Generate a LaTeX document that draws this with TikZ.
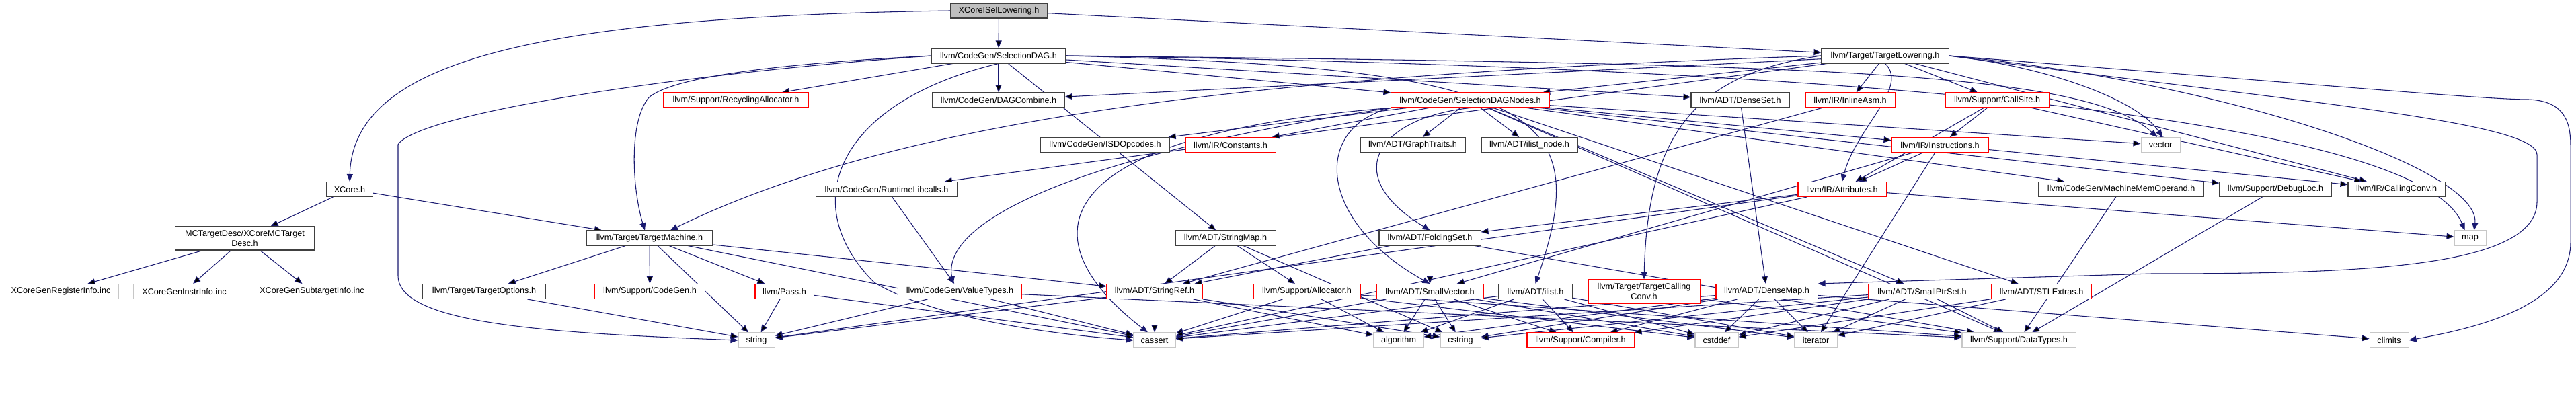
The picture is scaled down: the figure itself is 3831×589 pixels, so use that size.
\documentclass[tikz,border=0pt]{standalone}
\usepackage{fontspec}
\setmainfont{Liberation Sans}
\usetikzlibrary{arrows.meta}
\pgfdeclarelayer{background}
\pgfsetlayers{background,main}
\definecolor{dxblue}{RGB}{25,25,112}

\tikzset{
  hdr/.style={draw=black!75, fill=white, line width=0.3pt, minimum height=0.22cm,
    inner sep=0pt, font=\fontsize{3.6}{4.3}\selectfont, align=center},
  trunc/.style={hdr, draw=red},
  sys/.style={hdr, draw=black!22},
  dep/.style={draw=dxblue, line width=0.3pt, -{Triangle[length=0.11cm,width=0.09cm]}},
}

\begin{document}
\begin{tikzpicture}[x=0.01cm, y=-0.01cm]
\useasboundingbox (0,0) rectangle (3831,589);

% top
\node[hdr, fill=black!25, minimum width=1.43cm] (isel) at (1485.5,16) {XCoreISelLowering.h};
\node[hdr, minimum width=1.98cm] (sdag) at (1485,83) {llvm/CodeGen/SelectionDAG.h};
\node[hdr, minimum width=1.89cm] (tl) at (2803.5,83) {llvm/Target/TargetLowering.h};

% xcore side
\node[hdr, minimum width=0.68cm] (xcore) at (520,281.5) {XCore.h};
\node[hdr, minimum width=2.06cm, minimum height=0.35cm] (mctd) at (364,354.5) {MCTargetDesc/XCoreMCTarget\\Desc.h};
\node[sys, minimum width=1.71cm] (reginfo) at (90.5,433.5) {XCoreGenRegisterInfo.inc};
\node[sys, minimum width=1.50cm] (instrinfo) at (274,433.5) {XCoreGenInstrInfo.inc};
\node[sys, minimum width=1.80cm] (subtgt) at (464,433.5) {XCoreGenSubtargetInfo.inc};
\node[hdr, minimum width=1.86cm] (tm) at (966,354) {llvm/Target/TargetMachine.h};
\node[hdr, minimum width=1.82cm] (topts) at (720,433.5) {llvm/Target/TargetOptions.h};
\node[trunc, minimum width=1.63cm] (cg) at (966.5,433.5) {llvm/Support/CodeGen.h};
\node[trunc, minimum width=0.87cm] (pass) at (1166.5,433.5) {llvm/Pass.h};

% codegen
\node[trunc, minimum width=2.15cm] (recyc) at (1094.5,149) {llvm/Support/RecyclingAllocator.h};
\node[hdr, minimum width=1.96cm] (dagc) at (1485,149) {llvm/CodeGen/DAGCombine.h};
\node[hdr, minimum width=2.09cm] (rtlib) at (1318.5,281.5) {llvm/CodeGen/RuntimeLibcalls.h};
\node[trunc, minimum width=1.83cm] (vt) at (1427.5,433.5) {llvm/CodeGen/ValueTypes.h};
\node[hdr, minimum width=1.91cm] (isd) at (1643.5,215.5) {llvm/CodeGen/ISDOpcodes.h};
\node[trunc, minimum width=1.34cm] (consts) at (1830,215.5) {llvm/IR/Constants.h};
\node[trunc, minimum width=2.35cm] (sdn) at (2186.5,149) {llvm/CodeGen/SelectionDAGNodes.h};

% adt
\node[hdr, minimum width=1.49cm] (smap) at (1822.5,354) {llvm/ADT/StringMap.h};
\node[trunc, minimum width=1.42cm] (sref) at (1717,433.5) {llvm/ADT/StringRef.h};
\node[trunc, minimum width=1.59cm] (alloc) at (1943.5,433.5) {llvm/Support/Allocator.h};
\node[hdr, minimum width=1.56cm] (gtraits) at (2101,215.5) {llvm/ADT/GraphTraits.h};
\node[hdr, minimum width=1.43cm] (ilnode) at (2274.5,215.5) {llvm/ADT/ilist\_node.h};
\node[hdr, minimum width=1.51cm] (fset) at (2126.5,354) {llvm/ADT/FoldingSet.h};
\node[trunc, minimum width=1.59cm] (svec) at (2126.5,433.5) {llvm/ADT/SmallVector.h};
\node[hdr, minimum width=1.09cm] (ilist) at (2283.5,433.5) {llvm/ADT/ilist.h};
\node[trunc, minimum width=1.66cm, minimum height=0.35cm] (tcc) at (2445,433.5) {llvm/Target/TargetCalling\\Conv.h};
\node[hdr, minimum width=1.46cm] (dset) at (2588,149) {llvm/ADT/DenseSet.h};
\node[trunc, minimum width=1.51cm] (dmap) at (2627.5,433.5) {llvm/ADT/DenseMap.h};
\node[trunc, minimum width=1.59cm] (sptr) at (2858.5,433.5) {llvm/ADT/SmallPtrSet.h};
\node[trunc, minimum width=1.48cm] (stlx) at (3036,433.5) {llvm/ADT/STLExtras.h};

% ir / support
\node[trunc, minimum width=1.33cm] (iasm) at (2751.5,149) {llvm/IR/InlineAsm.h};
\node[trunc, minimum width=1.54cm] (csite) at (2970,149) {llvm/Support/CallSite.h};
\node[trunc, minimum width=1.44cm] (instr) at (2885,215.5) {llvm/IR/Instructions.h};
\node[trunc, minimum width=1.31cm] (attr) at (2739.5,281.5) {llvm/IR/Attributes.h};
\node[hdr, minimum width=2.45cm] (mmo) at (3154.5,281.5) {llvm/CodeGen/MachineMemOperand.h};
\node[hdr, minimum width=1.66cm] (dloc) at (3384,281.5) {llvm/Support/DebugLoc.h};
\node[hdr, minimum width=1.44cm] (ccv) at (3564,281.5) {llvm/IR/CallingConv.h};

% system headers
\node[sys, minimum width=0.54cm] (string) at (1125,506) {string};
\node[sys, minimum width=0.62cm] (cassert) at (1717,506) {cassert};
\node[sys, minimum width=0.74cm] (algo) at (2080,506) {algorithm};
\node[sys, minimum width=0.60cm] (cstring) at (2172,506) {cstring};
\node[trunc, minimum width=1.59cm] (compiler) at (2350.5,506) {llvm/Support/Compiler.h};
\node[sys, minimum width=0.64cm] (cstddef) at (2553,506) {cstddef};
\node[sys, minimum width=0.63cm] (iter) at (2700.5,506) {iterator};
\node[sys, minimum width=1.69cm] (dtypes) at (3002.5,506) {llvm/Support/DataTypes.h};
\node[sys, minimum width=0.58cm] (vector) at (3213,215.5) {vector};
\node[sys, minimum width=0.47cm] (map) at (3673.5,354) {map};
\node[sys, minimum width=0.58cm] (climits) at (3553,506) {climits};

\begin{pgfonlayer}{background}
\path[dep] (isel) edge (sdag) edge (tl);
\draw[dep] (isel.west) .. controls (800,25) and (525,90) .. (xcore.north);

\path[dep] (xcore) edge (mctd) edge (tm);
\path[dep] (mctd) edge (reginfo) edge (instrinfo) edge (subtgt);
\path[dep] (tm) edge (topts) edge (cg) edge (pass) edge (sref) edge (string) edge (cassert);
\path[dep] (topts) edge (string);
\path[dep] (pass) edge (string) edge (cassert);

\path[dep] (sdag) edge (recyc) edge (dagc) edge (sdn) edge (dset) edge (smap);
\draw[dep] (sdag.west) .. controls (1150,95) and (1000,115) .. (965,145)
  .. controls (935,180) and (940,280) .. ([xshift=-0.07cm]tm.north);
\draw[dep] (sdag.west) .. controls (1000,110) and (620,170) .. (592,215) -- (592,410)
  .. controls (592,480) and (800,495) .. (string.west);
\draw[dep] (sdag.south) .. controls (1250,150) and (1180,300) .. (1300,420)
  .. controls (1400,480) and (1600,500) .. (cassert.west);
\draw[dep] (sdag.east) .. controls (2300,100) and (2370,170) .. (ilist.north);
\draw[dep] (sdag.east) .. controls (2700,95) and (3100,105) .. ([xshift=-0.05cm]vector.north);
\draw[dep] (sdag.east) .. controls (2800,100) and (3600,180) .. ([xshift=-0.08cm]map.north);

\path[dep] (tl) edge (dagc) edge (rtlib) edge (sdn) edge (iasm) edge (csite) edge (ccv);
\draw[dep] (tl.west) .. controls (1900,110) and (1350,170) .. ([xshift=0.31cm]tm.north);
\draw[dep] (tl.west) .. controls (2520,110) and (2450,200) .. (tcc.north);
\draw[dep] (tl.south) .. controls (2840,130) and (2760,190) .. (attr.north);
\draw[dep] (tl.east) .. controls (3050,100) and (3180,150) .. ([xshift=0.03cm]vector.north);
\draw[dep] (tl.east) .. controls (3300,120) and (3690,250) .. ([xshift=0.06cm]map.north);
\draw[dep] (tl.east) .. controls (3400,150) and (3773,180) .. (3773,230) -- (3773,300)
  .. controls (3773,400) and (3500,407) .. (3200,407) -- (dmap.north east);
\draw[dep] (tl.east) .. controls (3500,130) and (3700,148) .. (3760,148)
  .. controls (3820,150) and (3823,190) .. (3823,220) -- (3823,360)
  .. controls (3823,450) and (3700,485) .. (climits.east);

\path[dep] (rtlib) edge (vt);
\path[dep] (vt) edge (string) edge (cassert) edge (dtypes);

\path[dep] (sdn) edge (isd) edge (consts) edge (gtraits) edge (ilnode) edge (sptr)
  edge (stlx) edge (mmo) edge (dtypes) edge (dloc) edge (instr) edge (vector);
\draw[dep] (sdn.south) .. controls (2050,175) and (1990,260) .. (fset.north);
\draw[dep] (sdn.south west) .. controls (1950,190) and (1960,330) .. (svec.north);
\draw[dep] (sdn.south west) .. controls (1600,230) and (1400,330) .. ([xshift=-0.1cm]vt.north);
\draw[dep] (sdn.south west) .. controls (1560,200) and (1520,350) .. ([xshift=-0.1cm]cassert.north);

\path[dep] (smap) edge (sref) edge (alloc) edge (cstring);
\path[dep] (sref) edge (string) edge (cassert) edge (algo) edge (cstring);
\path[dep] (alloc) edge (cassert) edge (algo) edge (cstddef) edge (dtypes);
\path[dep] (fset) edge (sref) edge (svec) edge (dtypes);
\path[dep] (svec) edge (algo) edge (cstring) edge (cstddef) edge (iter) edge (compiler) edge (cassert);
\path[dep] (ilist) edge (algo) edge (cassert) edge (cstddef) edge (iter) edge (compiler);
\path[dep] (tcc) edge (dtypes);
\path[dep] (dset) edge (dmap);
\path[dep] (iasm) edge (sref);
\path[dep] (instr) edge (attr) edge (ccv) edge (svec) edge (iter);
\path[dep] (attr) edge (fset) edge (cassert) edge (string) edge (map);
\path[dep] (dmap) edge (algo) edge (cassert) edge (climits) edge (cstddef) edge (cstring) edge (iter) edge (compiler);
\path[dep] (sptr) edge (compiler) edge (dtypes) edge (cassert) edge (cstddef) edge (cstring) edge (iter);
\path[dep] (csite) edge (attr) edge (ccv) edge (instr);
\path[dep] (mmo) edge (dtypes);
\path[dep] (dloc) edge (dtypes);
\path[dep] (stlx) edge (cstddef) edge (iter);
\end{pgfonlayer}
\end{tikzpicture}
\end{document}
